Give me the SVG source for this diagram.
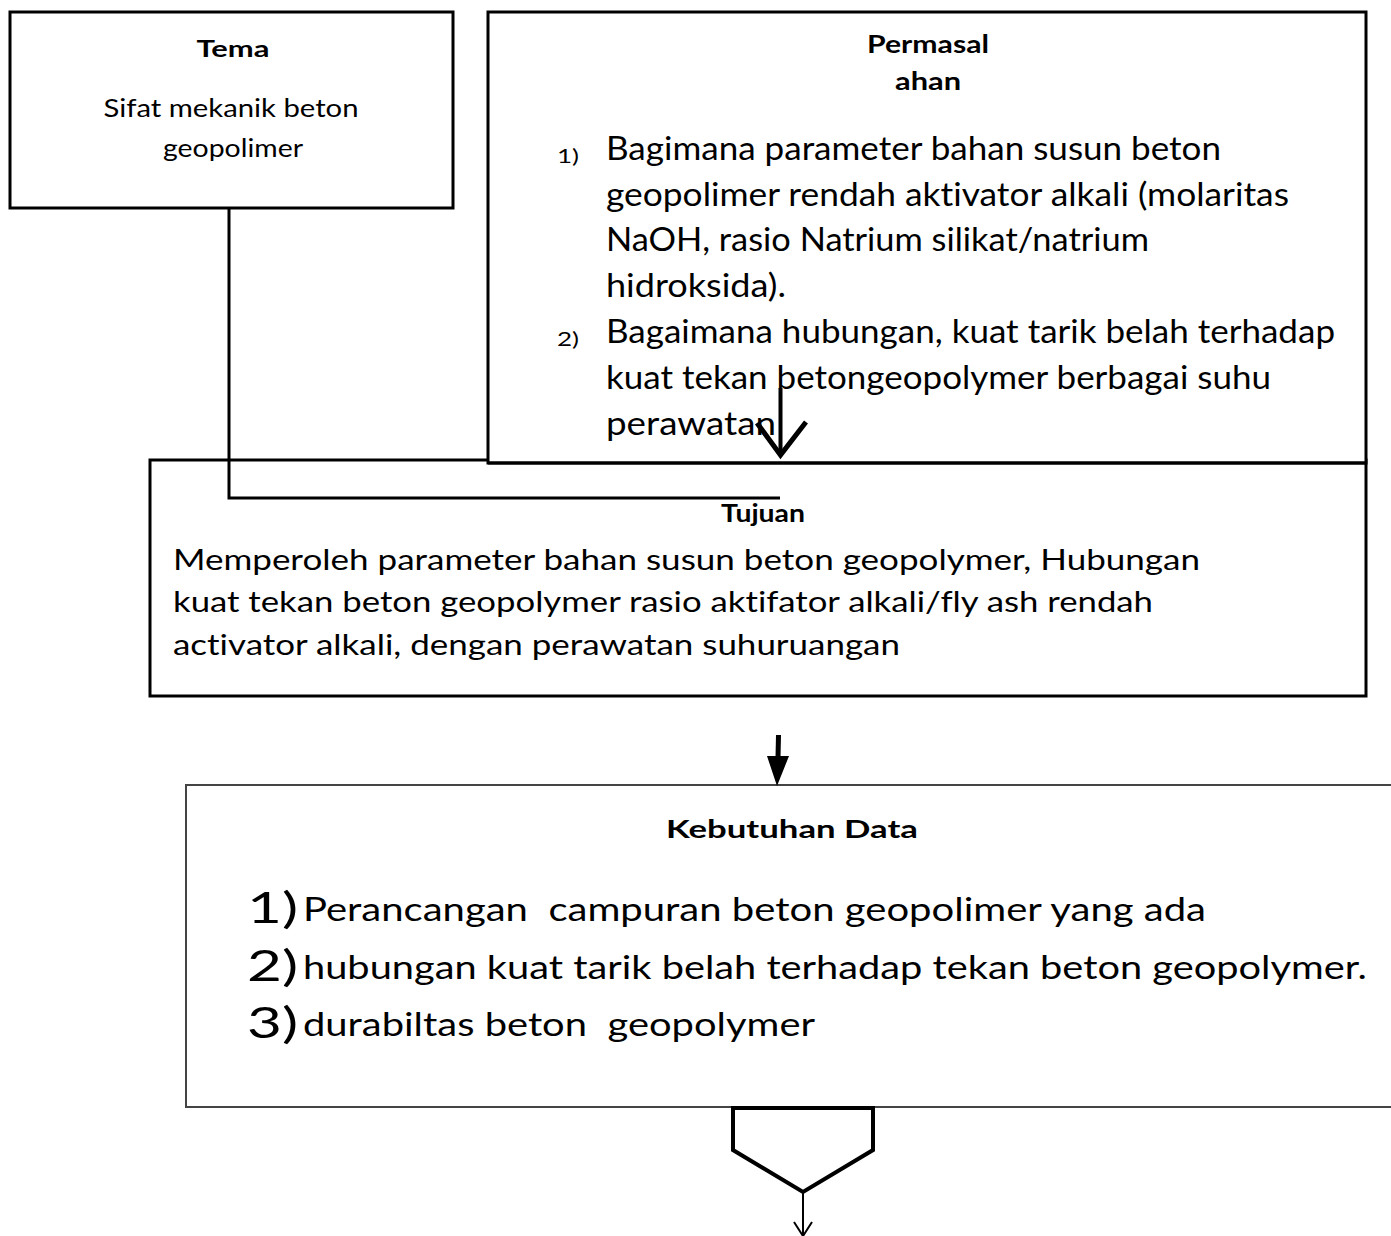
<svg xmlns="http://www.w3.org/2000/svg" width="1391" height="1236" viewBox="0 0 1391 1236">
<style>
text{font-family:Lato,"Open Sans","Liberation Sans",sans-serif;fill:#000;white-space:pre;font-variant-ligatures:none}
.b{font-weight:bold}
.box{fill:#fff;stroke:#000;stroke-width:3}
.thin{fill:#fff;stroke:#444;stroke-width:2}
.ln{fill:none;stroke:#000;stroke-width:3}
</style>
<g id="tema">
<rect class="box" x="10" y="12" width="443" height="196"/>
<text class="b" x="233" y="57" font-size="23" text-anchor="middle" textLength="73" lengthAdjust="spacingAndGlyphs">Tema</text>
<text x="231" y="117" font-size="25" text-anchor="middle" textLength="255" lengthAdjust="spacingAndGlyphs">Sifat mekanik beton</text>
<text x="233" y="157" font-size="25" text-anchor="middle" textLength="140" lengthAdjust="spacingAndGlyphs">geopolimer</text>
</g>
<g id="tujuan">
<rect class="box" x="150" y="460" width="1216" height="236"/>
<text class="b" x="763" y="522" font-size="24" text-anchor="middle" textLength="84" lengthAdjust="spacingAndGlyphs">Tujuan</text>
<text x="173" y="570" font-size="29" textLength="1027" lengthAdjust="spacingAndGlyphs">Memperoleh parameter bahan susun beton geopolymer, Hubungan</text>
<text x="173" y="612" font-size="29" textLength="980" lengthAdjust="spacingAndGlyphs">kuat tekan beton geopolymer rasio aktifator alkali/fly ash rendah</text>
<text x="173" y="655" font-size="29" textLength="727" lengthAdjust="spacingAndGlyphs">activator alkali, dengan perawatan suhuruangan</text>
</g>
<g id="permasalahan">
<rect class="box" x="488" y="12" width="878" height="451"/>
<line x1="488" y1="463" x2="1366" y2="463" stroke="#000" stroke-width="3"/>
<text class="b" x="928" y="53" font-size="24" text-anchor="middle" textLength="122" lengthAdjust="spacingAndGlyphs">Permasal</text>
<text class="b" x="928" y="90" font-size="24" text-anchor="middle" textLength="66" lengthAdjust="spacingAndGlyphs">ahan</text>
<text x="557" y="163" font-size="19" textLength="22" lengthAdjust="spacingAndGlyphs">1)</text>
<text x="606" y="160" font-size="33" textLength="615" lengthAdjust="spacingAndGlyphs">Bagimana parameter bahan susun beton</text>
<text x="606" y="206" font-size="33" textLength="683" lengthAdjust="spacingAndGlyphs">geopolimer rendah aktivator alkali (molaritas</text>
<text x="606" y="251" font-size="33" textLength="543" lengthAdjust="spacingAndGlyphs">NaOH, rasio Natrium silikat/natrium</text>
<text x="606" y="297" font-size="33" textLength="180" lengthAdjust="spacingAndGlyphs">hidroksida).</text>
<text x="557" y="346" font-size="19" textLength="22" lengthAdjust="spacingAndGlyphs">2)</text>
<text x="606" y="343" font-size="33" textLength="729" lengthAdjust="spacingAndGlyphs">Bagaimana hubungan, kuat tarik belah terhadap</text>
<text x="606" y="389" font-size="33" textLength="665" lengthAdjust="spacingAndGlyphs">kuat tekan betongeopolymer berbagai suhu</text>
<text x="606" y="435" font-size="33" textLength="170" lengthAdjust="spacingAndGlyphs">perawatan</text>
</g>
<g id="kebutuhan">
<rect class="thin" x="186" y="785" width="1210" height="322"/>
<text class="b" x="792" y="838" font-size="25" text-anchor="middle" textLength="252" lengthAdjust="spacingAndGlyphs">Kebutuhan Data</text>
<text x="247" y="923" font-size="42" textLength="51" lengthAdjust="spacingAndGlyphs">1)</text>
<text x="303" y="921" font-size="33" textLength="903" lengthAdjust="spacingAndGlyphs">Perancangan  campuran beton geopolimer yang ada</text>
<text x="247" y="981" font-size="42" textLength="51" lengthAdjust="spacingAndGlyphs">2)</text>
<text x="303" y="979" font-size="33" textLength="1064" lengthAdjust="spacingAndGlyphs">hubungan kuat tarik belah terhadap tekan beton geopolymer.</text>
<text x="247" y="1038" font-size="42" textLength="51" lengthAdjust="spacingAndGlyphs">3)</text>
<text x="303" y="1036" font-size="33" textLength="512" lengthAdjust="spacingAndGlyphs">durabiltas beton  geopolymer</text>
</g>
<g id="merge">
<path d="M733,1108 L873,1108 L873,1150 L803,1192 L733,1150 Z" fill="#fff" stroke="#000" stroke-width="4" stroke-linejoin="miter"/>
</g>
<g id="connectors">
<polyline class="ln" points="229,208 229,498 780,498"/>
<line x1="780.5" y1="388" x2="780.5" y2="456" stroke="#000" stroke-width="4"/>
<polyline points="757,423 780.5,455 806,422" fill="none" stroke="#000" stroke-width="5"/>
<line x1="778.5" y1="735" x2="778" y2="758" stroke="#000" stroke-width="5"/>
<path d="M767,756 L789,756 L777,786 Z" fill="#000"/>
<line x1="803" y1="1192" x2="803" y2="1236" stroke="#000" stroke-width="2"/>
<polyline points="794,1222 803,1236 812,1222" fill="none" stroke="#000" stroke-width="2"/>
</g>
</svg>
